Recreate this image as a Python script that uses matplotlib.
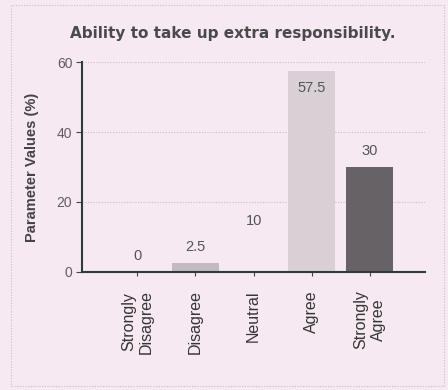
import matplotlib
matplotlib.use("Agg")
import matplotlib.pyplot as plt
from matplotlib.patches import Rectangle

categories = ["Strongly\nDisagree", "Disagree", "Neutral", "Agree", "Strongly\nAgree"]
values = [0, 2.5, 10, 57.5, 30]
value_labels = ["0", "2.5", "10", "57.5", "30"]
bar_colors = ["#d4c8cf", "#c4bbc0", "#f6e9f1", "#d8d0d5", "#676266"]
yticks = [0, 20, 40, 60]

bg = "#f6e9f1"
fig = plt.figure(figsize=(4.48, 3.9), dpi=100, facecolor=bg)
ax = fig.add_axes([0.183, 0.3026, 0.766, 0.5384], facecolor=bg)

x = list(range(len(categories)))
ax.bar(x, values, width=0.81, color=bar_colors, edgecolor="none", zorder=2)

ax.set_xlim(-0.95, 4.95)
ax.set_ylim(0, 60)
ax.set_yticks(yticks)
ax.set_yticklabels([str(t) for t in yticks], fontsize=10, color="#5f5f5f",
                   family="Liberation Sans")
ax.set_xticks(x)
ax.set_xticklabels(categories, rotation=90, fontsize=11.5, color="#353535",
                   family="Liberation Sans", va="top", ha="center",
                   multialignment="center")
ax.tick_params(axis="x", length=3, pad=10, color="#444444")
ax.tick_params(axis="y", length=4, pad=3, color="#444444")

for t in yticks[1:]:
    ax.axhline(t, color="#c8c0c5", lw=0.8, ls=(0, (1, 1.5)), zorder=1)

for s in ["top", "right"]:
    ax.spines[s].set_visible(False)
ax.spines["left"].set_color("#2f3a3f")
ax.spines["left"].set_linewidth(1.5)
ax.spines["bottom"].set_color("#2f3a3f")
ax.spines["bottom"].set_linewidth(1.5)

for xi, v, lab in zip(x, values, value_labels):
    y = min(v + 4.5, 52.6)
    ax.text(xi, y, lab, ha="center", va="center", fontsize=10.5,
            color="#555555", family="Liberation Sans", zorder=3)

ax.set_ylabel("Parameter Values (%)", fontsize=10.5, fontweight="bold",
              color="#444444", family="Liberation Sans", labelpad=13)

fig.text(0.52, 0.915, "Ability to take up extra responsibility.",
         ha="center", va="center", fontsize=11, fontweight="bold",
         color="#4a4a4a", family="DejaVu Sans")

fig.patches.append(Rectangle((0.025, 0.01), 0.965, 0.977, transform=fig.transFigure,
                             fill=False, edgecolor="#c8c0c5", lw=0.8,
                             ls=(0, (1, 1.5))))

fig.savefig("out.png", dpi=100, facecolor=bg)
